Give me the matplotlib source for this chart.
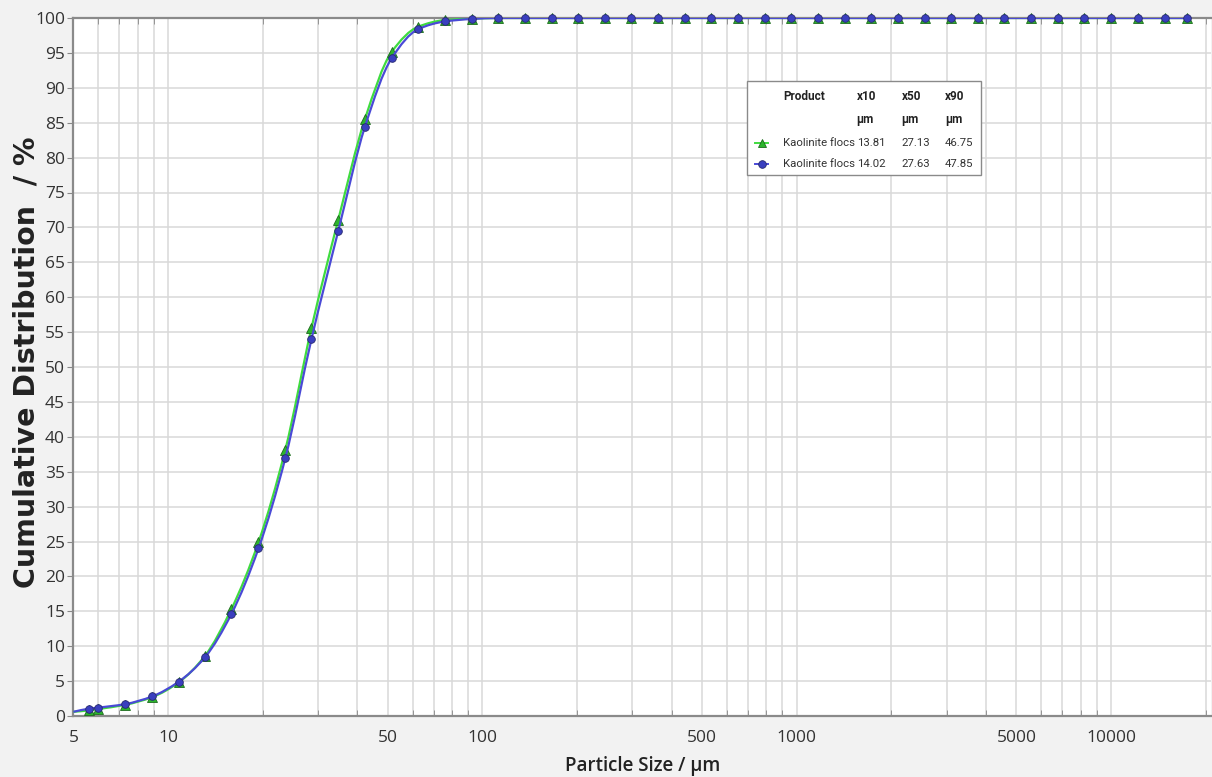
import numpy as np
import matplotlib
matplotlib.use("Agg")
from matplotlib import pyplot as plt
from matplotlib.ticker import FixedLocator, NullFormatter, FixedFormatter
from matplotlib.lines import Line2D
from matplotlib.patches import Rectangle, PathPatch
from matplotlib.path import Path

# particle size classes (µm)
sizes = [5.6, 6.0, 7.3, 8.9, 10.8, 13.1, 15.9, 19.4, 23.6, 28.6, 34.8, 42.3,
         51.4, 62.5, 75.9, 92.4, 112, 137, 166, 202, 246, 298, 363, 441, 535,
         651, 790, 962, 1169, 1424, 1725, 2096, 2553, 3101, 3776, 4574, 5558,
         6766, 8219, 10007, 12160, 14800, 17385]

# cumulative distribution, %
green_q3 = [0.8, 1.0, 1.6, 2.7, 4.8, 8.6, 15.3, 24.9, 38.1, 55.6, 71.1, 85.5,
            95.1, 98.75, 99.7, 99.9] + [100.0] * 27
blue_q3 = [1.05, 1.2, 1.7, 2.8, 4.9, 8.4, 14.6, 24.0, 36.9, 54.0, 69.5, 84.4,
           94.2, 98.4, 99.5, 99.86] + [100.0] * 27

# curve starts at the left edge of the axis
line_x0 = 5
green_y0 = 0.6
blue_y0 = 0.6

legend_rows = [("Kaolinite flocs", "13.81", "27.13", "46.75"),
               ("Kaolinite flocs", "14.02", "27.63", "47.85")]

green = "#3fdc3f"
green_mk = "#2cb52c"
blue = "#4a4ad6"
blue_mk = "#3a3fbf"
grid_c = "#d9d9d9"
plt.rcParams["font.family"] = ["Open Sans", "DejaVu Sans"]


def smooth_path(xs, ys):
    # monotone cubic through the points, as bezier segments (log x)
    u = np.log10(np.asarray(xs, float))
    y = np.asarray(ys, float)
    h = np.diff(u)
    d = np.diff(y) / h
    m = np.zeros_like(y)
    m[0], m[-1] = d[0], d[-1]
    for i in range(1, len(y) - 1):
        if d[i - 1] * d[i] > 0:
            w1 = 2 * h[i] + h[i - 1]
            w2 = h[i] + 2 * h[i - 1]
            m[i] = (w1 + w2) / (w1 / d[i - 1] + w2 / d[i])
    verts = [(xs[0], y[0])]
    codes = [Path.MOVETO]
    for i in range(len(h)):
        c1 = (10 ** (u[i] + h[i] / 3), y[i] + m[i] * h[i] / 3)
        c2 = (10 ** (u[i + 1] - h[i] / 3), y[i + 1] - m[i + 1] * h[i] / 3)
        verts += [c1, c2, (xs[i + 1], y[i + 1])]
        codes += [Path.CURVE4] * 3
    return Path(verts, codes)


W, H = 1212, 777
fig = plt.figure(figsize=(W / 100, H / 100), dpi=100, facecolor="#f2f2f2")
ax = fig.add_axes([73.4 / W, (H - 716) / H, (1211 - 73.4) / W, (716 - 18) / H])
ax.set_facecolor("white")

ax.set_xscale("log")
ax.set_xlim(5, 20800)
ax.set_ylim(0, 100)

ax.add_patch(PathPatch(smooth_path([line_x0] + sizes, [green_y0] + green_q3),
                       fill=False, edgecolor=green, lw=1.6, zorder=3))
ax.plot(sizes, green_q3, ls="none", marker="^", ms=6.5, mfc=green_mk,
        mec="#1d6b1d", mew=0.6, zorder=4, clip_on=False)
ax.add_patch(PathPatch(smooth_path([line_x0] + sizes, [blue_y0] + blue_q3),
                       fill=False, edgecolor=blue, lw=1.6, zorder=5))
ax.plot(sizes, blue_q3, ls="none", marker="o", ms=5.5, mfc=blue_mk,
        mec="#26286e", mew=0.6, zorder=6, clip_on=False)

major = [5, 10, 50, 100, 500, 1000, 5000, 10000]
grid_x = [m * d for d in (1, 10, 100, 1000) for m in range(1, 10)] + [10000, 20000]
grid_x = [g for g in grid_x if 5 < g < 20800]
ax.xaxis.set_major_locator(FixedLocator(major))
ax.xaxis.set_major_formatter(FixedFormatter([str(m) for m in major]))
ax.xaxis.set_minor_locator(FixedLocator(grid_x))
ax.xaxis.set_minor_formatter(NullFormatter())
ax.set_yticks(np.arange(0, 101, 5))

for g in grid_x:
    ax.axvline(g, color=grid_c, lw=1.1, zorder=1)
for yv in range(5, 100, 5):
    ax.axhline(yv, color=grid_c, lw=1.1, zorder=1)

ax.tick_params(axis="x", which="both", direction="in", length=4, color="#888888",
               top=True, labelsize=12.5, labelcolor="#333333", pad=10)
ax.tick_params(axis="x", which="major", length=0)
ax.tick_params(axis="y", direction="out", length=4, color="#888888",
               labelsize=12.5, labelcolor="#333333", pad=2)
for s in ["left", "bottom", "top"]:
    ax.spines[s].set_color("#8a8a8a")
    ax.spines[s].set_linewidth(1.6)
ax.spines["right"].set_visible(False)

ax.set_xlabel("Particle Size / µm", fontsize=13.5, fontweight="semibold",
              color="#222222", labelpad=7)
fig.text(27 / W, 1 - 362 / H, "Cumulative Distribution  / %", rotation=90,
         ha="center", va="center", fontsize=20.5, fontweight="bold",
         family=["DejaVu Sans"], color="#222222")


# legend table (figure pixel coordinates, y from top)
def fx(px):
    return px / W


def fy(py):
    return 1 - py / H


fig.patches.append(Rectangle((fx(747), fy(174.5)), fx(980.5) - fx(747),
                             fy(81) - fy(174.5), transform=fig.transFigure,
                             facecolor="white", edgecolor="#8a8a8a", lw=1.0,
                             zorder=10))
leg_font = ["Roboto", "DejaVu Sans"]
cols = [783, 856.7, 901.7, 945]
for x, t in zip(cols, ["Product", "x10", "x50", "x90"]):
    fig.text(fx(x), fy(96), t, fontsize=8.5, fontweight="bold", va="center",
             ha="left", color="#222222", zorder=11, family=leg_font)
for x in cols[1:]:
    fig.text(fx(x), fy(120), "µm", fontsize=8.5, fontweight="bold", va="center",
             ha="left", color="#222222", zorder=11, family=leg_font)
row_y = [143.3, 164.3]
styles = [(green, "^", green_mk, "#1d6b1d"), (blue, "o", blue_mk, "#26286e")]
for ry, row, (lc, mk, mfc, mec) in zip(row_y, legend_rows, styles):
    fig.lines.append(Line2D([fx(755), fx(768)], [fy(ry), fy(ry)],
                            transform=fig.transFigure, color=lc, lw=1.4,
                            zorder=11))
    fig.lines.append(Line2D([fx(761.5)], [fy(ry)], transform=fig.transFigure,
                            ls="none", marker=mk, ms=5.5 if mk == "o" else 6,
                            mfc=mfc, mec=mec, mew=0.6, zorder=12))
    for x, t in zip(cols, row):
        fig.text(fx(x), fy(ry), t, fontsize=8.2, va="center", ha="left",
                 color="#333333", zorder=11, family=leg_font)

fig.savefig("out.png", dpi=100, facecolor=fig.get_facecolor())
